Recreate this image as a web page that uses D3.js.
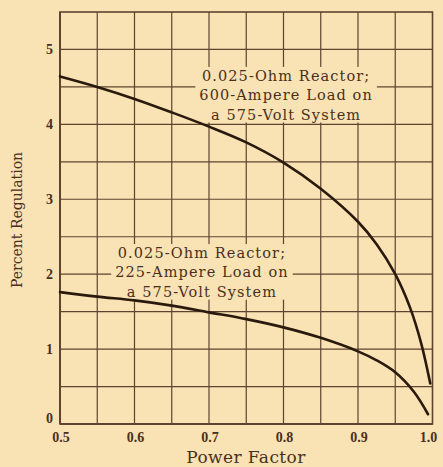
<!DOCTYPE html>
<html>
<head>
<meta charset="utf-8">
<script src="https://cdn.jsdelivr.net/npm/d3@7/dist/d3.min.js"></script>
<style>
  html, body { margin: 0; padding: 0; background: #f9e2b3; }
  svg { display: block; }
</style>
</head>
<body>
<svg id="chart" width="443" height="467"></svg>
<script>
// Regulation curves for a 0.025-ohm reactor on a 575-volt system
const powerFactor600 = [0.50, 0.55, 0.60, 0.65, 0.70, 0.75, 0.80, 0.85, 0.90, 0.925, 0.95, 0.97, 0.985, 0.997];
const regulation600  = [4.64, 4.50, 4.34, 4.16, 3.97, 3.76, 3.49, 3.14, 2.70, 2.40, 2.00, 1.55, 1.07, 0.54];

const powerFactor225 = [0.50, 0.55, 0.60, 0.65, 0.70, 0.75, 0.80, 0.85, 0.90, 0.925, 0.95, 0.975, 0.994];
const regulation225  = [1.76, 1.70, 1.65, 1.58, 1.49, 1.40, 1.29, 1.15, 0.97, 0.85, 0.69, 0.43, 0.13];

const xTicks = [0.5, 0.6, 0.7, 0.8, 0.9, 1.0];
const xTickLabels = ["0.5", "0.6", "0.7", "0.8", "0.9", "1.0"];
const yTicks = [0, 1, 2, 3, 4, 5];
const yTickLabels = ["0", "1", "2", "3", "4", "5"];
const xGrid = [0.55, 0.6, 0.65, 0.7, 0.75, 0.8, 0.85, 0.9, 0.95];
const yGrid = [0.5, 1, 1.5, 2, 2.5, 3, 3.5, 4, 4.5, 5];

const label600 = ["0.025-Ohm Reactor;", "600-Ampere Load on", "a 575-Volt System"];
const label225 = ["0.025-Ohm Reactor;", "225-Ampere Load on", "a 575-Volt System"];
const xTitle = "Power Factor";
const yTitle = "Percent Regulation";

const paper = "#f9e2b3";
const ink = "#4a301c";
const gridInk = "#5e4430";
const curveInk = "#2a1a0e";

const svg = d3.select("#chart");
const x = d3.scaleLinear().domain([0.5, 1.0]).range([60, 432.5]);
const y = d3.scaleLinear().domain([0, 5.5]).range([424, 12]);

// grid
const grid = svg.append("g");
grid.selectAll("line.v").data(xGrid).join("line")
  .attr("x1", d => x(d)).attr("x2", d => x(d))
  .attr("y1", y(0)).attr("y2", y(5.5))
  .attr("stroke", gridInk).attr("stroke-width", 1.2);
grid.selectAll("line.h").data(yGrid).join("line")
  .attr("x1", x(0.5)).attr("x2", x(1.0))
  .attr("y1", d => y(d)).attr("y2", d => y(d))
  .attr("stroke", gridInk).attr("stroke-width", 1.2);

// frame
svg.append("rect")
  .attr("x", x(0.5)).attr("y", y(5.5))
  .attr("width", x(1.0) - x(0.5)).attr("height", y(0) - y(5.5))
  .attr("fill", "none").attr("stroke", gridInk).attr("stroke-width", 1.6);
svg.append("line").attr("x1", x(0.5)).attr("x2", x(0.5)).attr("y1", y(5.5)).attr("y2", y(0))
  .attr("stroke", gridInk).attr("stroke-width", 2);
svg.append("line").attr("x1", x(0.5)).attr("x2", x(1.0)).attr("y1", y(0)).attr("y2", y(0))
  .attr("stroke", gridInk).attr("stroke-width", 2);

// annotation blocks with paper-coloured backing that interrupts the grid
function annotate(lines, cx, baseVal) {
  const g = svg.append("g");
  const bg = g.append("rect").attr("fill", paper);
  const t = g.append("text")
    .attr("font-family", "'DejaVu Serif', serif")
    .attr("font-size", 14.5)
    .attr("letter-spacing", 1.1)
    .attr("fill", ink)
    .attr("text-anchor", "middle");
  t.selectAll("tspan").data(lines).join("tspan")
    .attr("x", x(cx))
    .attr("y", (d, i) => y(baseVal) + i * 19.3)
    .text(d => d);
  const b = t.node().getBBox();
  bg.attr("x", b.x - 4).attr("y", b.y - 1).attr("width", b.width + 8).attr("height", b.height + 1);
}
annotate(label600, 0.8035, 4.58);
annotate(label225, 0.6905, 2.215);

// curves
const line = d3.line().x(d => x(d[0])).y(d => y(d[1])).curve(d3.curveCatmullRom.alpha(0.5));
svg.append("path")
  .datum(d3.zip(powerFactor600, regulation600))
  .attr("d", line).attr("fill", "none")
  .attr("stroke", curveInk).attr("stroke-width", 2.6).attr("stroke-linecap", "round");
svg.append("path")
  .datum(d3.zip(powerFactor225, regulation225))
  .attr("d", line).attr("fill", "none")
  .attr("stroke", curveInk).attr("stroke-width", 2.6).attr("stroke-linecap", "round");

// tick labels
svg.append("g").selectAll("text").data(yTicks).join("text")
  .attr("x", 53)
  .attr("y", d => y(d) + (d === 0 ? -1 : 4.5))
  .attr("text-anchor", "end")
  .attr("font-family", "'Liberation Serif', serif")
  .attr("font-weight", "bold").attr("font-size", 14)
  .attr("fill", ink)
  .text((d, i) => yTickLabels[i]);

svg.append("g").selectAll("text").data(xTicks).join("text")
  .attr("x", d => x(d) + (d === 1.0 ? -4 : 1))
  .attr("y", 442)
  .attr("text-anchor", "middle")
  .attr("font-family", "'Liberation Serif', serif")
  .attr("font-weight", "bold").attr("font-size", 14)
  .attr("fill", ink)
  .text((d, i) => xTickLabels[i]);

// axis titles
svg.append("text")
  .attr("x", 246).attr("y", 463)
  .attr("text-anchor", "middle")
  .attr("font-family", "'DejaVu Serif', serif")
  .attr("font-size", 17).attr("letter-spacing", 0.4)
  .attr("fill", ink)
  .text(xTitle);

svg.append("text")
  .attr("transform", "translate(22,220) rotate(-90)")
  .attr("text-anchor", "middle")
  .attr("font-family", "'DejaVu Serif', serif")
  .attr("font-size", 14)
  .attr("fill", ink)
  .text(yTitle);
</script>
</body>
</html>
